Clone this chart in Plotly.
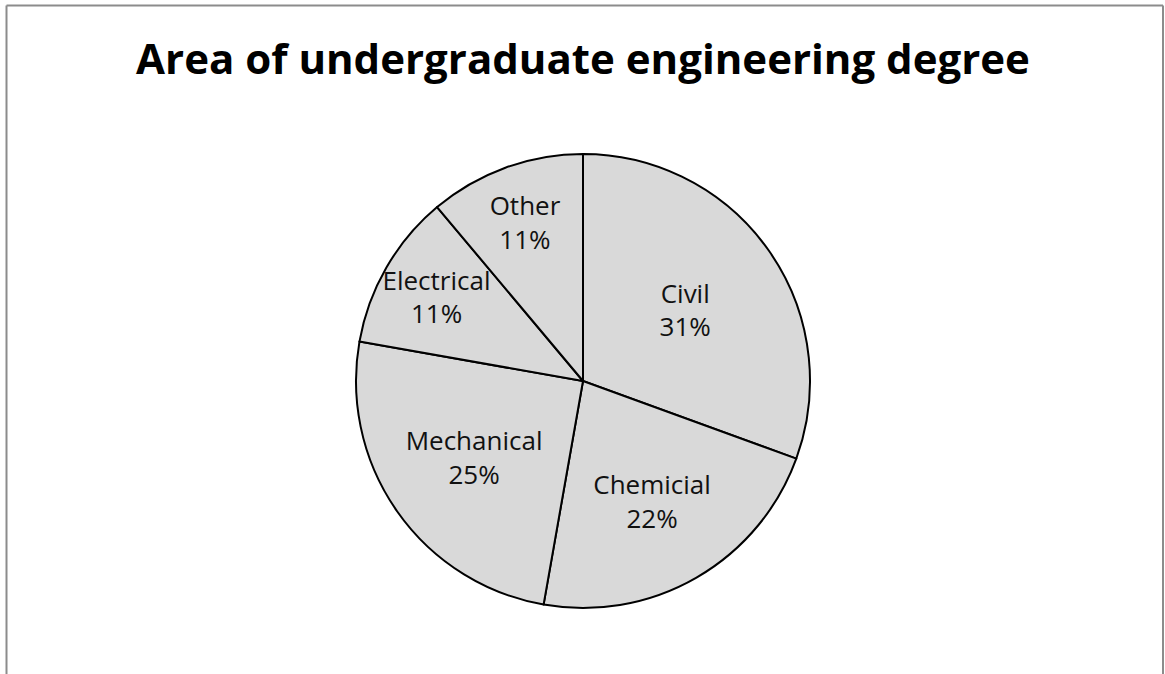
import plotly.graph_objects as go

categories = ["Civil", "Chemicial", "Mechanical", "Electrical", "Other"]
counts = [11, 8, 9, 4, 4]
title_text = "Area of undergraduate engineering degree"

W, H = 1165, 674
cx, cy, r = 583, 381, 227

fig = go.Figure(go.Pie(
    labels=categories,
    values=counts,
    sort=False,
    direction="clockwise",
    rotation=0,
    marker=dict(colors=["#d9d9d9"] * len(categories), line=dict(color="#000000", width=2)),
    texttemplate="%{label}<br>%{percent:.0%}",
    textposition="inside",
    insidetextorientation="horizontal",
    textfont=dict(family="Open Sans", size=26, color="#111111"),
    hoverinfo="label+percent",
    showlegend=False,
    domain=dict(x=[(cx - r) / W, (cx + r) / W], y=[(H - cy - r) / H, (H - cy + r) / H]),
))

fig.update_layout(
    width=W, height=H,
    margin=dict(l=0, r=0, t=0, b=0),
    paper_bgcolor="white",
    title=dict(text="<b>" + title_text + "</b>", x=583 / W, xanchor="center",
               y=1 - 59 / H, yanchor="middle",
               font=dict(family="Open Sans", size=42, color="#000000")),
    uniformtext=dict(minsize=26, mode="show"),
    shapes=[
        dict(type="line", xref="paper", yref="paper", x0=6.5 / W, x1=6.5 / W, y0=1 - 5.5 / H, y1=0,
             line=dict(color="#8c8c8c", width=2)),
        dict(type="line", xref="paper", yref="paper", x0=6.5 / W, x1=1163 / W, y0=1 - 5.5 / H, y1=1 - 5.5 / H,
             line=dict(color="#8c8c8c", width=2)),
        dict(type="line", xref="paper", yref="paper", x0=1163 / W, x1=1163 / W, y0=1 - 5.5 / H, y1=0,
             line=dict(color="#8c8c8c", width=2)),
    ],
)

fig.write_html("out.html")
